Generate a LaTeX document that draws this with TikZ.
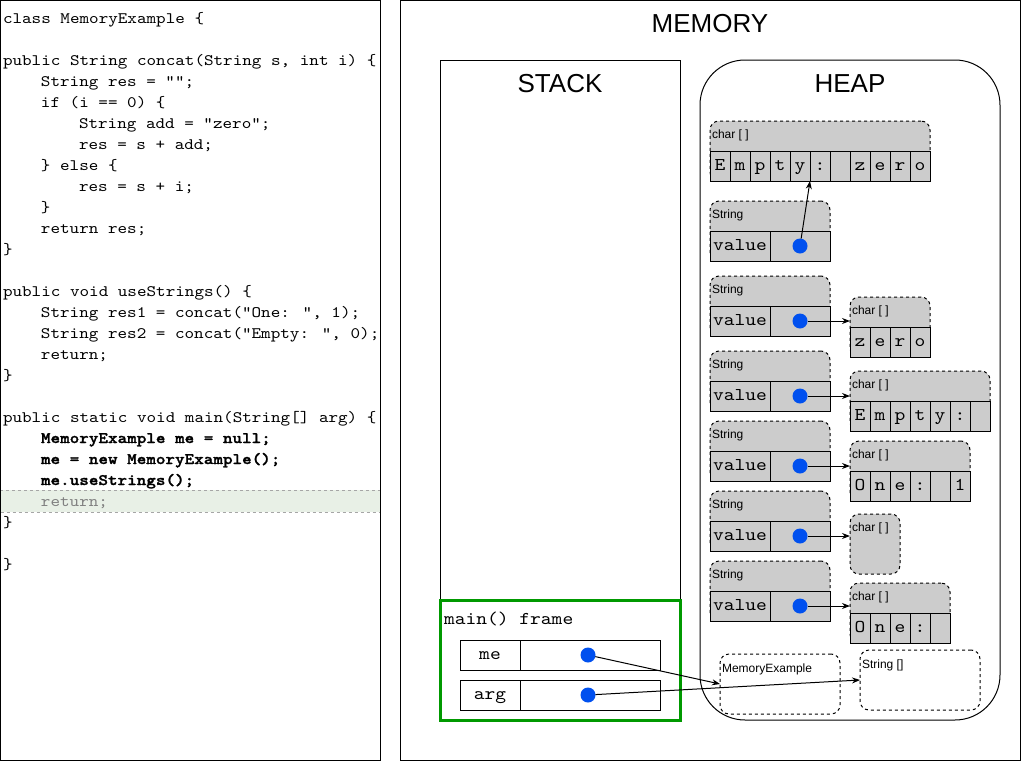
\documentclass[tikz,border=0pt]{standalone}
\usepackage{fontspec}
\setmainfont{Liberation Sans}
\newfontfamily\courierlike{lmmono10-regular.otf}[BoldFont=lmmonolt10-bold.otf, BoldFeatures={FakeBold=1.5}, FakeStretch=1.14]
\usetikzlibrary{arrows.meta, positioning, calc}

\definecolor{objgray}{HTML}{CCCCCC}
\definecolor{refblue}{HTML}{0050EF}
\definecolor{framegreen}{HTML}{009900}
\definecolor{linegreen}{HTML}{E8F0E6}
\newcommand{\codefont}{\fontsize{16}{21}\selectfont\courierlike}
\newcommand{\cellfont}{\fontsize{18}{18}\selectfont\courierlike}
\newcommand{\objfont}{\fontsize{12}{13}\selectfont}

\begin{document}
\begin{tikzpicture}[
    x=1pt, y=-1pt, % one unit per pixel, y grows downwards
    line width=1pt,
    >={Stealth[length=8pt, width=6pt]},
    every node/.style={inner sep=0pt, outer sep=0pt},
    panel/.style={draw, anchor=north west},
    heading/.style={font=\fontsize{26}{26}\selectfont},
    codeline/.style={anchor=base west, font=\codefont},
    objbox/.style={draw, dashed, fill=objgray, rounded corners=9pt, anchor=north west, minimum height=60pt},
    emptybox/.style={draw, dashed, rounded corners=9pt, anchor=north west, minimum height=60pt},
    objlabel/.style={anchor=base west, font=\objfont},
    cell/.style={draw, fill=objgray, anchor=north west, minimum width=20pt, minimum height=30pt, text height=8pt, text depth=0pt, font=\cellfont},
    slot/.style={draw, anchor=north west, minimum height=30pt, text height=8pt, text depth=0pt, font=\cellfont},
    ref/.style={circle, fill=refblue, minimum size=15pt},
  ]
  \useasboundingbox (0,0) rectangle (1021,761);

  % source code panel
  \node[fill=linegreen, draw=gray!70, dashed, anchor=north west, minimum width=380pt, minimum height=22pt] (current) at (0.5,490) {};
  \node[panel, minimum width=380pt, minimum height=760pt] (code) at (0.5,0.5) {};

  \node[codeline] (l1) at (3,23) {class MemoryExample \{};
  \node[codeline] (l3) at (3,65) {public String concat(String s, int i) \{};
  \node[codeline] (l4) at (41,86) {String res = "";};
  \node[codeline] (l5) at (41,107) {if (i == 0) \{};
  \node[codeline] (l6) at (79,128) {String add = "zero";};
  \node[codeline] (l7) at (79,149) {res = s + add;};
  \node[codeline] (l8) at (41,170) {\} else \{};
  \node[codeline] (l9) at (79,191) {res = s + i;};
  \node[codeline] (l10) at (41,212) {\}};
  \node[codeline] (l11) at (41,233) {return res;};
  \node[codeline] (l12) at (3,254) {\}};
  \node[codeline] (l14) at (3,296) {public void useStrings() \{};
  \node[codeline] (l15) at (41,317) {String res1 = concat("One: ", 1);};
  \node[codeline] (l16) at (41,338) {String res2 = concat("Empty: ", 0);};
  \node[codeline] (l17) at (41,359) {return;};
  \node[codeline] (l18) at (3,380) {\}};
  \node[codeline] (l20) at (3,422) {public static void main(String[] arg) \{};
  \node[codeline, font=\codefont\bfseries] (l21) at (41,443) {MemoryExample me = null;};
  \node[codeline, font=\codefont\bfseries] (l22) at (41,464) {me = new MemoryExample();};
  \node[codeline, font=\codefont\bfseries] (l23) at (41,485) {me.useStrings();};
  \node[codeline, text=gray] (l24) at (41,506) {return;};
  \node[codeline] (l25) at (3,527) {\}};
  \node[codeline] (l27) at (3,569) {\}};

  % memory panel
  \node[panel, minimum width=620pt, minimum height=760pt] (memory) at (400.5,0.5) {};
  \node[heading] (memtitle) at (710,24) {MEMORY};
  \node[panel, minimum width=240pt, minimum height=660pt] (stack) at (440,60) {};
  \node[panel, rounded corners=45pt, minimum width=300pt, minimum height=660pt] (heap) at (700,60) {};
  \node[heading] (stacktitle) at (560,84) {STACK};
  \node[heading] (heaptitle) at (850,84) {HEAP};

  % heap: strings
  \foreach \t [count=\k from 0] in {201,276,351,421,491,561} {
    \node[objbox, minimum width=120pt] (str\k) at (710,\t) {};
    \node[objlabel] (strlbl\k) at ($(str\k.north west)+(2,17)$) {String};
    \node[cell, minimum width=60pt] (val\k) at (710,\t+30) {value};
    \node[cell, minimum width=60pt] (ptr\k) at (770,\t+30) {};
    \node[ref] (dot\k) at (ptr\k) {};
  }

  % heap: char arrays
  \node[objbox, minimum width=220pt] (chars0) at (710,121) {};
  \node[objlabel] (charlbl0) at ($(chars0.north west)+(2,17)$) {char [ ]};
  \foreach \ch [count=\i from 0] in {E,m,p,t,y,:,{},z,e,r,o}
    \node[cell] (chars0-\i) at (710+20*\i,151) {\ch};

  \node[objbox, minimum width=80pt] (chars1) at (850,297) {};
  \node[objlabel] (charlbl1) at ($(chars1.north west)+(2,17)$) {char [ ]};
  \foreach \ch [count=\i from 0] in {z,e,r,o}
    \node[cell] (chars1-\i) at (850+20*\i,327) {\ch};

  \node[objbox, minimum width=140pt] (chars2) at (850,371) {};
  \node[objlabel] (charlbl2) at ($(chars2.north west)+(2,17)$) {char [ ]};
  \foreach \ch [count=\i from 0] in {E,m,p,t,y,:,{}}
    \node[cell] (chars2-\i) at (850+20*\i,401) {\ch};

  \node[objbox, minimum width=120pt] (chars3) at (850,441) {};
  \node[objlabel] (charlbl3) at ($(chars3.north west)+(2,17)$) {char [ ]};
  \foreach \ch [count=\i from 0] in {O,n,e,:,{},1}
    \node[cell] (chars3-\i) at (850+20*\i,471) {\ch};

  \node[objbox, minimum width=50pt] (chars4) at (850,514) {};
  \node[objlabel] (charlbl4) at ($(chars4.north west)+(2,17)$) {char [ ]};

  \node[objbox, minimum width=100pt] (chars5) at (850,583) {};
  \node[objlabel] (charlbl5) at ($(chars5.north west)+(2,17)$) {char [ ]};
  \foreach \ch [count=\i from 0] in {O,n,e,:,{}}
    \node[cell] (chars5-\i) at (850+20*\i,613) {\ch};

  % heap: other objects
  \node[emptybox, minimum width=120pt] (meobj) at (720,654) {};
  \node[objlabel] (meobjlbl) at ($(meobj.north west)+(2,18)$) {MemoryExample};
  \node[emptybox, minimum width=120pt] (argobj) at (860,650) {};
  \node[objlabel] (argobjlbl) at ($(argobj.north west)+(2,18)$) {String []};

  % stack: main() frame
  \node[draw=framegreen, line width=3pt, anchor=north west, minimum width=240pt, minimum height=120pt] (mainframe) at (440,600) {};
  \node[anchor=base west, font=\cellfont] (framelbl) at (444,624) {main() frame};
  \node[slot, minimum width=60pt] (mename) at (460,640) {me};
  \node[slot, minimum width=140pt] (meptr) at (520,640) {};
  \node[ref] (medot) at (588,655) {};
  \node[slot, minimum width=60pt] (argname) at (460,680) {arg};
  \node[slot, minimum width=140pt] (argptr) at (520,680) {};
  \node[ref] (argdot) at (588,695) {};

  % references
  \draw[->] (dot0) -- (chars0-5.south west);
  \foreach \k in {1,...,5}
    \draw[->] (dot\k) -- (chars\k.west |- dot\k);
  \draw[->] (medot) -- (meobj.west);
  \draw[->] (argdot) -- (argobj.west);

\end{tikzpicture}
\end{document}
